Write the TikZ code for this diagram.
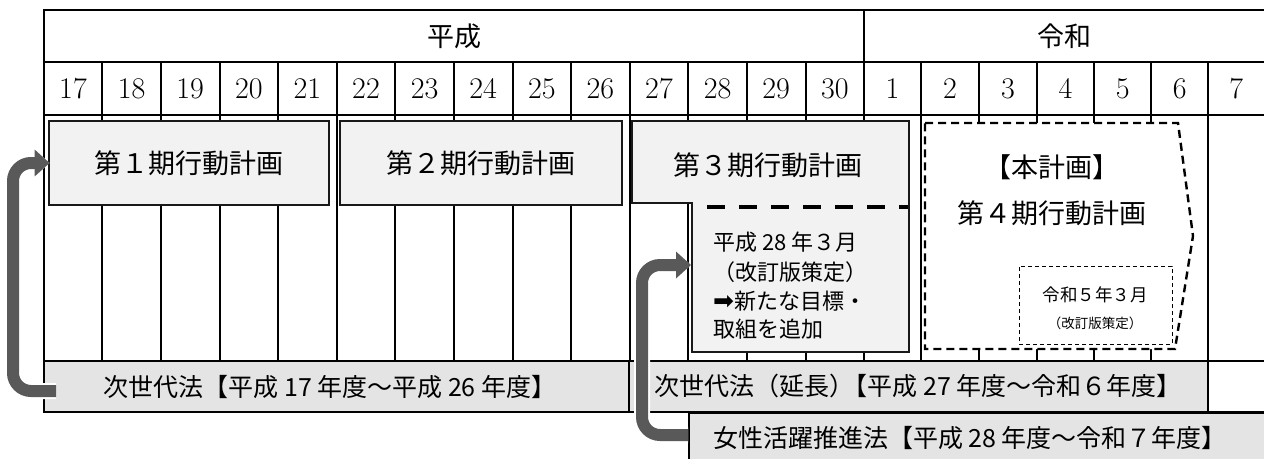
\documentclass[tikz,border=0pt]{standalone}
\usepackage{fontspec}
\newfontfamily\jp{Noto Sans CJK JP}
\newfontfamily\dv{DejaVu Sans}
\usetikzlibrary{arrows.meta}
\definecolor{planfill}{HTML}{F2F2F2}
\definecolor{lawfill}{HTML}{E4E4E4}
\definecolor{arrowgray}{HTML}{595959}
\begin{document}
\begin{tikzpicture}[x=1pt,y=-1pt,
  grid/.style={line width=2pt, draw=black},
  planbox/.style={draw=black!90, line width=2.8pt, fill=planfill, font=\jp\fontsize{27}{32}\selectfont, inner sep=0pt},
  planlabel/.style={font=\jp\fontsize{27}{32}\selectfont, inner sep=0pt},
  lawbox/.style={draw=black, line width=2pt, fill=lawfill, inner sep=0pt},
  lawtext/.style={font=\jp\fontsize{25}{30}\selectfont, inner sep=0pt},
  era/.style={font=\jp\fontsize{27}{32}\selectfont, inner sep=0pt},
  yr/.style={font=\fontsize{30}{36}\selectfont, inner sep=0pt},
  note/.style={font=\jp\fontsize{22}{26}\selectfont, inner sep=0pt, anchor=west},
  bigarrow/.style={line width=12pt, draw=arrowgray, rounded corners=18pt, -{Triangle[width=26pt,length=15pt]}},
  arrowhalo/.style={line width=16pt, draw=white, rounded corners=18pt, -{Triangle[width=31pt,length=18pt]}},
]
\useasboundingbox (0,0) rectangle (1264,458);
\clip (0,0) rectangle (1264,458);
\fill[white] (0,0) rectangle (1264,458);

% grid
\draw[grid] (43.7,10.3) -- (1266,10.3);
\draw[grid] (43.7,62.3) -- (1266,62.3);
\draw[grid] (43.7,115) -- (1266,115);
\draw[grid] (43.7,361) -- (1266,361);
\draw[grid] (43.7,411.5) -- (1266,411.5);
\draw[grid] (43.7,9.3) -- (43.7,412.5);
\draw[grid] (864,10.3) -- (864,361);
\foreach \i in {1,...,13} \draw[grid] ({43.7+58.6*\i},62.3) -- ({43.7+58.6*\i},361);
\foreach \x in {921,979,1036.7,1094.3,1151,1208.3} \draw[grid] (\x,62.3) -- (\x,361);

% era labels
\node[era] (heisei) at (454,36) {平成};
\node[era] (reiwa) at (1064,36) {令和};

% years
\foreach \n [count=\i from 0] in {17,...,30}
  \node[yr] (yr\n) at ({43.7+58.6*(\i+0.5)},88.5) {\n};
\foreach \n/\x in {1/892.5,2/950,3/1007.9,4/1065.5,5/1122.7,6/1179.7,7/1236.2}
  \node[yr] (ry\n) at (\x,88.5) {\n};

% law boxes
\node[lawbox, minimum width=585.3pt, minimum height=50.5pt] (law1) at (336.35,386.25) {};
\node[lawbox, minimum width=579.3pt, minimum height=50.5pt] (law2) at (918.65,386.25) {};
\node[lawbox, minimum width=600pt, minimum height=60pt, anchor=north west] (law3) at (688,411.5) {};

% plan boxes
\node[planbox, minimum width=280pt, minimum height=84pt] (plan1) at (189,163) {第１期行動計画};
\node[planbox, minimum width=282pt, minimum height=84pt] (plan2) at (481,163) {第２期行動計画};
\draw[line width=2.8pt, draw=black!90, fill=planfill] (632,121) -- (909,121) -- (909,352) -- (692,352) -- (692,203) -- (632,203) -- cycle;
\node[planlabel] (plan3) at (768,165) {第３期行動計画};
\draw[line width=4.5pt, dash pattern=on 18pt off 14pt] (707,207) -- (908,207);
\node[note] (rev1) at (713,242) {平成 28 年３月};
\node[note] (rev2) at (713,272) {（改訂版策定）};
\node[note] (rev3) at (713,301) {{\dv\fontsize{25}{26}\selectfont ➡}新たな目標・};
\node[note] (rev4) at (713,329) {取組を追加};
\coordinate (p3step) at (692,265);

% plan 4
\draw[line width=2.4pt, dash pattern=on 8pt off 5pt, fill=white] (925,123) -- (1178,123) -- (1193,236) -- (1175,349) -- (925,349) -- cycle;
\node[planlabel] (plan4a) at (1052,167) {【本計画】};
\node[planlabel] (plan4) at (1052,213) {第４期行動計画};
\node[draw, line width=1pt, dash pattern=on 4pt off 3pt, minimum width=153pt, minimum height=78pt, inner sep=0pt] (r5box) at (1095.5,305) {};
\node[font=\jp\fontsize{17.5}{20}\selectfont, inner sep=0pt] (r5a) at (1095,295) {令和５年３月};
\node[font=\jp\fontsize{13.5}{16}\selectfont, inner sep=0pt] (r5b) at (1095,323) {（改訂版策定）};

% arrows
\draw[arrowhalo] ([xshift=13.3pt,yshift=-4.75pt]law1.west) -- ++(-43,0) |- ([xshift=2pt]plan1.west);
\draw[bigarrow] ([xshift=13.3pt,yshift=-4.75pt]law1.west) -- ++(-43,0) |- ([xshift=2pt]plan1.west);
\draw[arrowhalo] ([yshift=7.5pt]law3.west) -- ++(-46,0) |- ([xshift=-1pt]p3step);
\draw[bigarrow] ([yshift=7.5pt]law3.west) -- ++(-46,0) |- ([xshift=-1pt]p3step);

% law texts
\node[lawtext] (law1t) at (330,387) {次世代法【平成 17 年度～平成 26 年度】};
\node[lawtext] (law2t) at (918,386) {次世代法（延長）\kern-0.45em【平成 27 年度～令和６年度】};
\node[lawtext] (law3t) at (970,438) {女性活躍推進法【平成 28 年度～令和７年度】};
\end{tikzpicture}
\end{document}
